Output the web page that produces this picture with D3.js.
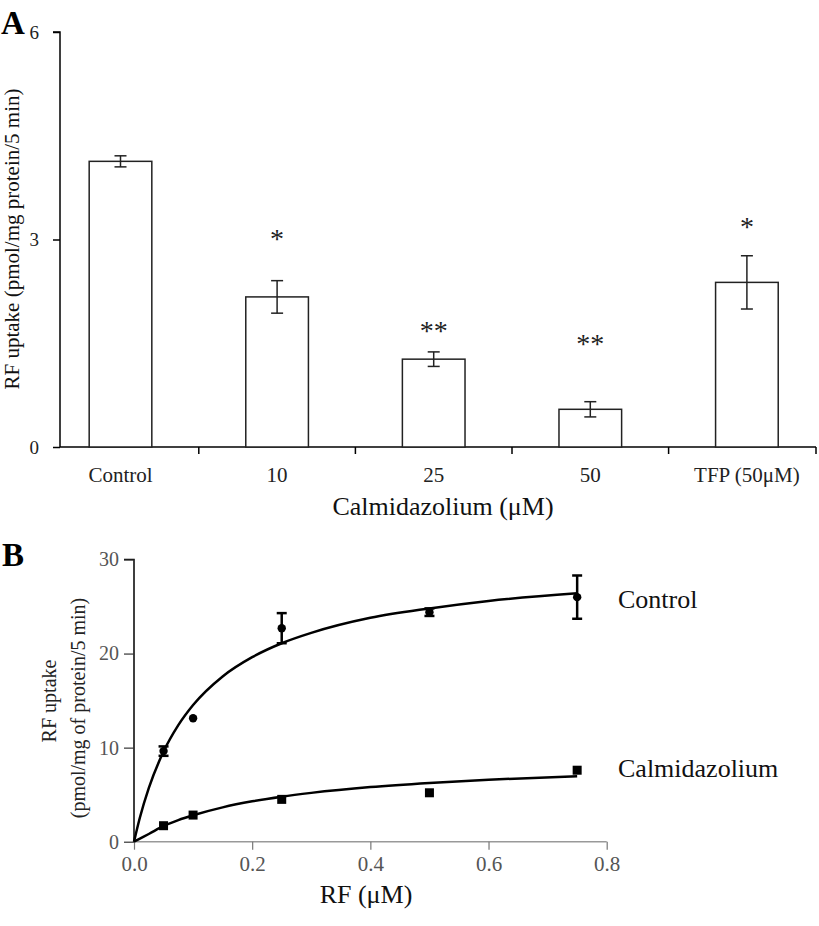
<!DOCTYPE html>
<html>
<head>
<meta charset="utf-8">
<script src="https://cdn.jsdelivr.net/npm/d3@7"></script>
<style>
  html, body { margin: 0; padding: 0; background: #fff; }
  svg { display: block; }
  text { font-family: "Liberation Serif", "Times New Roman", serif; }
</style>
</head>
<body>
<svg id="chart" width="819" height="926"></svg>
<script>
// ---------- Panel A data ----------
const catsA = ["Control", "10", "25", "50", "TFP (50\u03bcM)"];
const meansA = [4.13, 2.17, 1.27, 0.545, 2.38];
const errsA = [0.08, 0.235, 0.105, 0.11, 0.385];
const starsA = ["", "*", "**", "**", "*"];
const starLevelA = [null, 3.07, 1.73, 1.55, 3.24];
const ticksA = [0, 3, 6];

// ---------- Panel B data ----------
const rfX = [0.05, 0.1, 0.25, 0.5, 0.75];
const controlY = [9.63, 13.13, 22.7, 24.4, 26.0];
const controlErr = [0.5, 0, 1.6, 0.4, 2.3];
const calmY = [1.70, 2.83, 4.5, 5.2, 7.6];
const curveX = [0, 0.01, 0.025, 0.05, 0.075, 0.1, 0.15, 0.2, 0.25, 0.3, 0.4, 0.5, 0.6, 0.75];
const controlFit = [0, 2.57, 5.69, 9.58, 12.39, 14.53, 17.57, 19.62, 21.1, 22.2, 23.8, 24.8, 25.6, 26.4];
const calmFit = [0, 0.33, 0.82, 1.67, 2.30, 2.81, 3.65, 4.29, 4.79, 5.19, 5.81, 6.25, 6.59, 6.96];
const ticksBy = [0, 10, 20, 30];
const ticksBx = [0, 0.2, 0.4, 0.6, 0.8];

const svg = d3.select("#chart");

// =================== Panel A ===================
const yA = d3.scaleLinear().domain([0, 6]).range([447, 32]);
const xA = d3.scaleBand().domain(catsA).range([42.2, 825.2]).paddingInner(0.6).paddingOuter(0.3);
const gA = svg.append("g");

// y axis
const axA = gA.append("g").attr("transform", "translate(60,0)")
  .call(d3.axisLeft(yA).tickValues(ticksA).tickSize(7).tickPadding(14).tickFormat(d3.format("d")));
axA.select(".domain").attr("stroke", "#000").attr("stroke-width", 1.5).attr("d", "M-7,32H0V447");
axA.selectAll(".tick line").attr("stroke", "#000").attr("stroke-width", 1.5);
axA.selectAll(".tick text").attr("font-size", 19).attr("fill", "#222")
  .style("font-family", "'Liberation Serif', serif");

// x axis line with boundary ticks
const xAxisEnd = 816;
gA.append("line").attr("x1", 60).attr("x2", xAxisEnd).attr("y1", yA(0)).attr("y2", yA(0))
  .attr("stroke", "#000").attr("stroke-width", 1.5);
const bounds = catsA.slice(0, catsA.length - 1).map(c => xA(c) + xA.bandwidth() / 2 + xA.step() / 2);
bounds.push(xAxisEnd);
gA.selectAll(".btick").data(bounds).enter().append("line")
  .attr("x1", d => d).attr("x2", d => d).attr("y1", yA(0)).attr("y2", yA(0) + 7)
  .attr("stroke", "#000").attr("stroke-width", 1.5);
gA.selectAll(".xlab").data(catsA).enter().append("text")
  .attr("x", d => xA(d) + xA.bandwidth() / 2).attr("y", 482)
  .attr("text-anchor", "middle").attr("font-size", 21).attr("fill", "#222").text(d => d);

// bars
gA.selectAll(".bar").data(meansA).enter().append("rect")
  .attr("x", (d, i) => xA(catsA[i])).attr("width", xA.bandwidth())
  .attr("y", d => yA(d)).attr("height", d => yA(0) - yA(d))
  .attr("fill", "#fff").attr("stroke", "#222").attr("stroke-width", 1.5);

// error bars
const capA = 6;
meansA.forEach((m, i) => {
  const cx = xA(catsA[i]) + xA.bandwidth() / 2;
  const e = errsA[i];
  const g = gA.append("g").attr("stroke", "#222").attr("stroke-width", 1.5);
  g.append("line").attr("x1", cx).attr("x2", cx).attr("y1", yA(m + e)).attr("y2", yA(m - e));
  g.append("line").attr("x1", cx - capA).attr("x2", cx + capA).attr("y1", yA(m + e)).attr("y2", yA(m + e));
  g.append("line").attr("x1", cx - capA).attr("x2", cx + capA).attr("y1", yA(m - e)).attr("y2", yA(m - e));
});

// significance stars
starsA.forEach((s, i) => {
  if (!s) return;
  gA.append("text").attr("x", xA(catsA[i]) + xA.bandwidth() / 2).attr("y", yA(starLevelA[i]) + 13)
    .attr("text-anchor", "middle").attr("font-size", 28).attr("fill", "#222").text(s);
});

// titles
gA.append("text").attr("x", 443).attr("y", 515).attr("text-anchor", "middle")
  .attr("font-size", 26).attr("fill", "#111").text("Calmidazolium (\u03bcM)");
gA.append("text").attr("transform", "translate(19,239) rotate(-90)").attr("text-anchor", "middle")
  .attr("font-size", 21).attr("fill", "#111").text("RF uptake (pmol/mg protein/5 min)");
gA.append("text").attr("x", 1).attr("y", 34).attr("font-size", 33).attr("font-weight", "bold")
  .attr("fill", "#000").text("A");

// =================== Panel B ===================
const xB = d3.scaleLinear().domain([0, 0.8]).range([134, 606.7]);
const yB = d3.scaleLinear().domain([0, 30]).range([841.7, 559.5]);
const gB = svg.append("g");

const axBy = gB.append("g").attr("transform", `translate(${xB(0)},0)`)
  .call(d3.axisLeft(yB).tickValues(ticksBy).tickSize(10).tickPadding(5).tickFormat(d3.format("d")));
axBy.select(".domain").attr("stroke", "#000").attr("stroke-width", 1.5).attr("d", `M-10,${yB(30)}H0V${yB(0)}`);
axBy.selectAll(".tick line").attr("stroke", "#333").attr("stroke-width", 1.2);
axBy.selectAll(".tick text").attr("font-size", 20).attr("fill", "#555")
  .style("font-family", "'Liberation Serif', serif");

const axBx = gB.append("g").attr("transform", `translate(0,${yB(0)})`)
  .call(d3.axisBottom(xB).tickValues(ticksBx).tickSize(8).tickPadding(6).tickFormat(d3.format(".1f")));
axBx.select(".domain").attr("stroke", "#999").attr("stroke-width", 1.5).attr("d", `M${xB(0)},0H${xB(0.8)}`);
axBx.selectAll(".tick line").attr("stroke", "#777").attr("stroke-width", 1.2);
axBx.selectAll(".tick text").attr("font-size", 21).attr("fill", "#555")
  .style("font-family", "'Liberation Serif', serif");

// fitted curves
const line = d3.line().x(d => xB(d[0])).y(d => yB(d[1])).curve(d3.curveMonotoneX);
gB.append("path").datum(curveX.map((x, i) => [x, controlFit[i]])).attr("d", line)
  .attr("fill", "none").attr("stroke", "#000").attr("stroke-width", 2.5);
gB.append("path").datum(curveX.map((x, i) => [x, calmFit[i]])).attr("d", line)
  .attr("fill", "none").attr("stroke", "#000").attr("stroke-width", 2.5);

// control error bars + circles
const capB = 5;
rfX.forEach((x, i) => {
  const e = controlErr[i];
  if (e > 0) {
    const cx = xB(x), m = controlY[i];
    const g = gB.append("g").attr("stroke", "#000").attr("stroke-width", 2.5);
    g.append("line").attr("x1", cx).attr("x2", cx).attr("y1", yB(m + e)).attr("y2", yB(m - e));
    g.append("line").attr("x1", cx - capB).attr("x2", cx + capB).attr("y1", yB(m + e)).attr("y2", yB(m + e));
    g.append("line").attr("x1", cx - capB).attr("x2", cx + capB).attr("y1", yB(m - e)).attr("y2", yB(m - e));
  }
});
gB.selectAll(".ctl").data(rfX).enter().append("circle")
  .attr("cx", d => xB(d)).attr("cy", (d, i) => yB(controlY[i])).attr("r", 4.2).attr("fill", "#000");
gB.selectAll(".calm").data(rfX).enter().append("rect")
  .attr("x", d => xB(d) - 4.5).attr("y", (d, i) => yB(calmY[i]) - 4.5)
  .attr("width", 9).attr("height", 9).attr("fill", "#000");

// series labels
gB.append("text").attr("x", 618).attr("y", 608).attr("font-size", 26).attr("fill", "#111").text("Control");
gB.append("text").attr("x", 618).attr("y", 777).attr("font-size", 26).attr("fill", "#111").text("Calmidazolium");

// axis titles
gB.append("text").attr("x", 366).attr("y", 903).attr("text-anchor", "middle")
  .attr("font-size", 26).attr("fill", "#111").text("RF (\u03bcM)");
gB.append("text").attr("transform", "translate(56,701) rotate(-90)").attr("text-anchor", "middle")
  .attr("font-size", 20).attr("fill", "#222").text("RF uptake");
gB.append("text").attr("transform", "translate(85,708) rotate(-90)").attr("text-anchor", "middle")
  .attr("font-size", 20).attr("fill", "#222").text("(pmol/mg of protein/5 min)");
gB.append("text").attr("x", 2).attr("y", 566).attr("font-size", 33).attr("font-weight", "bold")
  .attr("fill", "#000").text("B");
</script>
</body>
</html>
